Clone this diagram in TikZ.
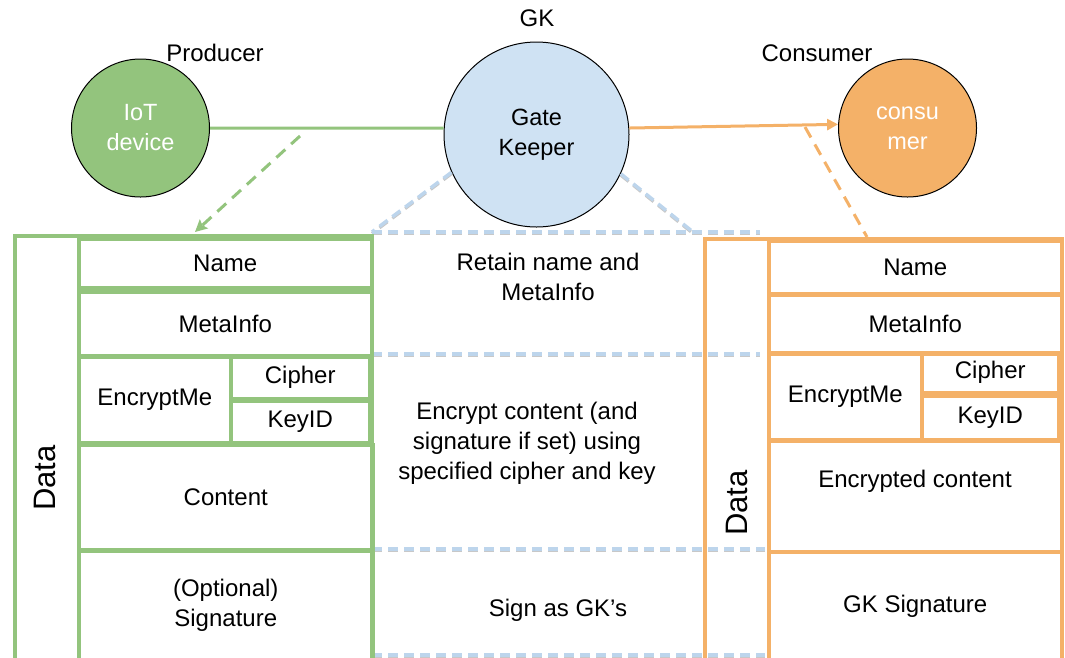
\documentclass[tikz,border=0pt]{standalone}
\usepackage{fontspec}
\setmainfont{Liberation Sans}
\usetikzlibrary{arrows.meta}
\definecolor{grn}{RGB}{147,196,125}
\definecolor{org}{RGB}{244,177,104}
\definecolor{gkfill}{RGB}{207,226,243}
\definecolor{lblue}{RGB}{189,213,236}
\definecolor{dshade}{RGB}{200,200,200}
\tikzset{
  txt/.style={font=\fontsize{24}{30}\selectfont, align=center, inner sep=0pt},
  big/.style={font=\fontsize{31}{36}\selectfont, inner sep=0pt, rotate=90},
  peer/.style={circle, draw=black, line width=1pt, inner sep=0pt, text=white,
    font=\fontsize{23.5}{30}\selectfont, align=center},
  gcell/.style={draw=grn, line width=3.5pt, anchor=north west, inner sep=0pt,
    font=\fontsize{24}{30}\selectfont, align=center},
  ocell/.style={gcell, draw=org},
  gline/.style={draw=grn, line width=3pt},
  oline/.style={draw=org, line width=3pt},
  bdash/.style={draw=lblue, line width=3.5pt, dash pattern=on 10pt off 6pt,
    preaction={draw=dshade, line width=3pt, dash pattern=on 10pt off 6pt, transform canvas={yshift=-1.5pt}}},
}
\begin{document}
\begin{tikzpicture}[x=1pt, y=-1pt]
\useasboundingbox (0,0) rectangle (1065,657);

% peers
\node[peer, fill=grn, minimum size=138pt] (prod) at (140.5,128) {IoT\\device};
\node[peer, fill=gkfill, text=black, minimum size=185pt] (gk) at (536.5,134.5) {Gate\\Keeper};
\node[peer, fill=org, minimum size=138pt] (cons) at (907.5,128) {consu\\mer};

\node[txt] (lprod) at (215,53) {Producer};
\node[txt] (lgk) at (537,18) {GK};
\node[txt] (lcons) at (817,53) {Consumer};

% links between peers
\draw[gline] (prod.east) -- (gk.176);
\draw[oline, -{Triangle[length=11pt,width=11pt]}] (gk.4) -- (cons.177.5);

% packets handed down from the links
\coordinate (gsrc) at (300,136);
\coordinate (gdst) at (195,232);
\draw[gline, dash pattern=on 12pt off 8pt, -{Stealth[length=12pt,width=12pt,inset=2pt]}] (gsrc) -- (gdst);
\coordinate (osrc) at (805,127);
\coordinate (odst) at (867,237);
\draw[oline, dash pattern=on 12pt off 8pt] (osrc) -- (odst);

% gate keeper processing band
\coordinate (bl) at (372,232);
\coordinate (br) at (693,232);
\coordinate (bre) at (760,232);
\draw[bdash] (gk.204) -- (bl);
\draw[bdash] (gk.335) -- (br);
\draw[bdash] (bl) -- (bre);
\coordinate (m1l) at (372,354);
\coordinate (m1r) at (760,354);
\draw[bdash] (m1l) -- (m1r);
\coordinate (m2l) at (372,549);
\coordinate (m2r) at (765,549);
\draw[bdash] (m2l) -- (m2r);
\coordinate (m3l) at (372,655);
\coordinate (m3r) at (765,655);
\draw[bdash] (m3l) -- (m3r);

\node[txt] (retain) at (548,277) {Retain name and\\MetaInfo};
\node[txt] (encrypt) at (527,443) {Encrypt content (and\\signature if set) using\\specified cipher and key};
\node[txt] (sign) at (558,610) {Sign as GK’s};

% producer packet
\node[gcell, minimum width=357pt, minimum height=430pt] (gdata) at (13,234) {};
\node[big] (gdatal) at (45,478) {Data};
\node[gcell, minimum width=293pt, minimum height=49pt] (gname) at (77,237) {Name};
\node[gcell, minimum width=293pt, minimum height=64pt] (gmeta) at (77,290) {MetaInfo};
\node[gcell, minimum width=152pt, minimum height=86pt] (genc) at (77,355) {EncryptMe};
\node[gcell, minimum width=139pt, minimum height=42pt] (gciph) at (229,355) {Cipher};
\node[gcell, minimum width=139pt, minimum height=42pt] (gkey) at (229,399) {KeyID};
\node[gcell, minimum width=294pt, minimum height=105pt] (gcont) at (77,443) {Content};
\node[gcell, minimum width=294pt, minimum height=110pt] (gsig) at (77,549) {(Optional)\\Signature};

% consumer packet
\node[ocell, minimum width=357pt, minimum height=430pt] (odata) at (703,237) {};
\node[big] (odatal) at (737,503) {Data};
\node[ocell, minimum width=293pt, minimum height=53pt] (oname) at (767,239) {Name};
\node[ocell, minimum width=293pt, minimum height=59pt] (ometa) at (767,293) {MetaInfo};
\node[ocell, minimum width=153pt, minimum height=87pt] (oenc) at (767,351) {EncryptMe};
\node[ocell, minimum width=137pt, minimum height=40pt] (ociph) at (920,351) {Cipher};
\node[ocell, minimum width=137pt, minimum height=44pt] (okey) at (920,394) {KeyID};
\node[ocell, minimum width=293pt, minimum height=111pt] (ocont) at (767,439) {};
\node[txt] (ocontl) at (915,481) {Encrypted content};
\node[ocell, minimum width=293pt, minimum height=110pt] (osig) at (767,550) {GK Signature};
\end{tikzpicture}
\end{document}
